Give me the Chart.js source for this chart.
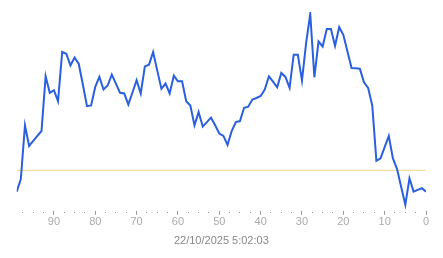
<!DOCTYPE html>
<html>
<head>
<meta charset="utf-8">
<script src="https://cdn.jsdelivr.net/npm/chart.js@4/dist/chart.umd.min.js"></script>
<style>
  body { margin: 0; background: #fff; }
  #wrap { width: 443px; height: 258px; position: relative; }
</style>
</head>
<body>
<div id="wrap"><canvas id="chart"></canvas></div>
<script>
// Data (x = age, oldest first; y = reading)
const ages = [];
for (let a = 99; a >= 0; a--) ages.push(a);

const values = [
  20.3, 33, 87, 66.3, 71.3, 76.3, 81.3, 136.3, 119.7, 122.3,
  111.3, 160.7, 159, 147.3, 155.3, 149, 128, 106.3, 107, 125.7,
  135.7, 123, 127, 138, 129, 119.7, 119, 108, 120, 132.3,
  119, 146.3, 148, 160.7, 142, 123.7, 129, 119, 137, 131.3,
  131.3, 111.3, 107, 87, 100.3, 85.7, 90.2, 94.7, 87, 78.7,
  76.3, 67.3, 81.3, 90.3, 91.3, 104.7, 105.7, 113, 114.5, 116.5,
  123, 136.3, 131, 125.3, 139.7, 135.7, 124.7, 158, 158, 132,
  169.7, 199, 135.3, 171.3, 166.3, 184, 184, 167, 185.7, 178,
  161.3, 144.7, 144.4, 144, 130.3, 124.7, 107, 51.3, 53.7, 65,
  76.3, 53.7, 43, 25, 7, 33.7, 20.3, 22, 23.7, 20.3
];

const thresholdValue = 41.7;
const tickValues = [];
for (let t = 0; t <= 97.5; t += 2.5) tickValues.push(t);
const timestamp = '22/10/2025 5:02:03';

Chart.defaults.font.family = '"Liberation Sans", Arial, sans-serif';

const ctx = document.getElementById('chart').getContext('2d');

new Chart(ctx, {
  type: 'line',
  data: {
    datasets: [
      {
        label: 'value',
        data: ages.map((a, i) => ({ x: a, y: values[i] })),
        borderColor: '#2a5fe0',
        borderWidth: 2,
        pointRadius: 0,
        tension: 0,
        fill: false,
        order: 1
      },
      {
        label: 'threshold',
        data: [{ x: ages[0], y: thresholdValue }, { x: ages[ages.length - 1], y: thresholdValue }],
        borderColor: '#f2d57e',
        borderWidth: 1,
        pointRadius: 0,
        fill: false,
        order: 2
      }
    ]
  },
  options: {
    responsive: true,
    maintainAspectRatio: false,
    animation: false,
    layout: { padding: { left: 16.7, right: 17, top: 12, bottom: 10.6 } },
    plugins: {
      legend: { display: false },
      tooltip: { enabled: false }
    },
    scales: {
      x: {
        type: 'linear',
        reverse: true,
        min: 0,
        max: 99,
        afterBuildTicks: scale => {
          scale.ticks = tickValues.map(v => ({ value: v }));
        },
        border: { display: false },
        grid: {
          drawOnChartArea: false,
          drawTicks: true,
          tickLength: 4,
          tickWidth: 1,
          tickColor: '#999',
          tickBorderDash: c => (c.tick && c.tick.value % 10 === 0) ? [] : [0, 1, 1, 10]
        },
        ticks: {
          autoSkip: false,
          maxRotation: 0,
          padding: 1,
          color: '#aaa',
          font: { size: 11 },
          callback: v => (v % 10 === 0 ? v : '')
        },
        title: {
          display: true,
          text: timestamp,
          color: '#888',
          font: { size: 11 },
          padding: { top: 4.2, bottom: 0 }
        }
      },
      y: {
        display: false,
        min: 1,
        max: 201
      }
    }
  }
});
</script>
</body>
</html>
